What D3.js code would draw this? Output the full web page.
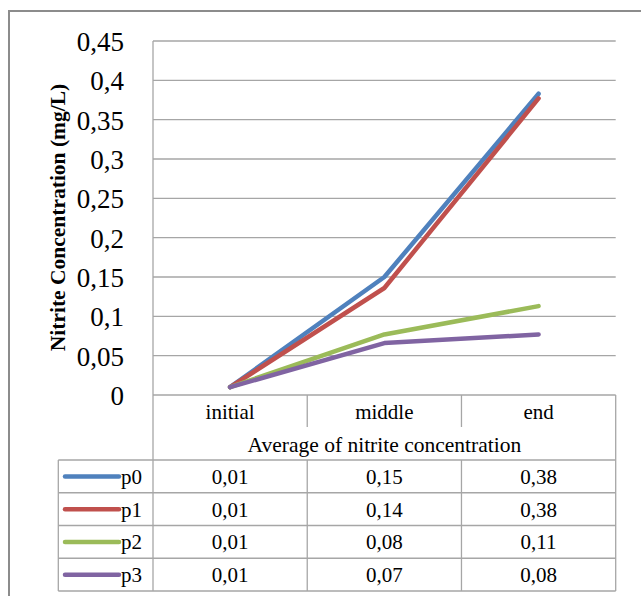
<!DOCTYPE html>
<html>
<head>
<meta charset="utf-8">
<script src="https://cdn.jsdelivr.net/npm/d3@7"></script>
<style>
  html, body { margin: 0; padding: 0; background: #fff; }
  svg { display: block; }
  text { font-family: "Liberation Serif", "Times New Roman", serif; fill: #000; }
</style>
</head>
<body>
<svg id="chart" width="641" height="596"></svg>
<script>
// ---- data ----
const categories = ["initial", "middle", "end"];
const seriesNames = ["p0", "p1", "p2", "p3"];
const p0 = [0.010, 0.150, 0.383];
const p1 = [0.010, 0.136, 0.377];
const p2 = [0.010, 0.077, 0.113];
const p3 = [0.010, 0.066, 0.077];
const seriesColors = ["#4F81BD", "#C0504D", "#9BBB59", "#8064A2"];
const yTickValues = [0, 0.05, 0.1, 0.15, 0.2, 0.25, 0.3, 0.35, 0.4, 0.45];
const yTickLabels = ["0", "0,05", "0,1", "0,15", "0,2", "0,25", "0,3", "0,35", "0,4", "0,45"];
const yTitle = "Nitrite Concentration (mg/L)";
const xTitle = "Average of nitrite concentration";

const seriesValues = [p0, p1, p2, p3];

// ---- layout ----
const svg = d3.select("#chart");
const plotLeft = 153, plotRight = 615.7, plotTop = 41, plotBottom = 395;
const catRowBottom = 427;
const titleRowBottom = 460;
const rowH = 32.75;
const tableLeft = 58.3;
const gridColor = "#A6A6A6";
const bodyFont = "21px";

const x = d3.scaleBand().domain(categories).range([plotLeft, plotRight]);
const y = d3.scaleLinear().domain([0, 0.45]).range([plotBottom, plotTop]);
const cx = c => x(c) + x.bandwidth() / 2;

const fmt = d3.formatLocale({decimal: ",", thousands: ".", grouping: [3], currency: ["", ""]}).format(".2f");

// outer frame
svg.append("path")
  .attr("d", "M9,600 L9,11 L645,11")
  .attr("fill", "none").attr("stroke", "#8C8C8C").attr("stroke-width", 2);

// gridlines
svg.append("g").selectAll("line").data(yTickValues).join("line")
  .attr("x1", plotLeft).attr("x2", plotRight)
  .attr("y1", d => y(d)).attr("y2", d => y(d))
  .attr("stroke", gridColor).attr("stroke-width", 1.3);

// plot left axis line
svg.append("line")
  .attr("x1", plotLeft).attr("x2", plotLeft)
  .attr("y1", plotTop).attr("y2", plotBottom + 4 * rowH + (titleRowBottom - plotBottom))
  .attr("stroke", gridColor).attr("stroke-width", 1.3);

// y tick labels
svg.append("g").selectAll("text").data(yTickValues).join("text")
  .attr("x", 124).attr("y", d => y(d) + 10)
  .attr("text-anchor", "end")
  .style("font-size", "27px")
  .text((d, i) => yTickLabels[i]);

// y title
svg.append("text")
  .attr("transform", "translate(65,217.5) rotate(-90)")
  .attr("text-anchor", "middle")
  .style("font-size", "21.5px").style("font-weight", "bold")
  .text(yTitle);

// ---- data table ----
const tableBottom = titleRowBottom + 4 * rowH;
const tg = svg.append("g");
tg.append("line").attr("x1", plotRight).attr("x2", plotRight)
  .attr("y1", plotBottom).attr("y2", tableBottom)
  .attr("stroke", gridColor).attr("stroke-width", 1.3);
tg.selectAll(".divh").data(categories.slice(1)).join("line")
  .attr("x1", d => x(d)).attr("x2", d => x(d))
  .attr("y1", plotBottom).attr("y2", catRowBottom)
  .attr("stroke", gridColor).attr("stroke-width", 1.3);
tg.selectAll(".divb").data(categories.slice(1)).join("line")
  .attr("x1", d => x(d)).attr("x2", d => x(d))
  .attr("y1", titleRowBottom).attr("y2", tableBottom)
  .attr("stroke", gridColor).attr("stroke-width", 1.3);
tg.append("line").attr("x1", tableLeft).attr("x2", tableLeft)
  .attr("y1", titleRowBottom).attr("y2", tableBottom)
  .attr("stroke", gridColor).attr("stroke-width", 1.3);
tg.selectAll(".row").data(d3.range(5)).join("line")
  .attr("x1", tableLeft).attr("x2", plotRight)
  .attr("y1", i => titleRowBottom + i * rowH).attr("y2", i => titleRowBottom + i * rowH)
  .attr("stroke", gridColor).attr("stroke-width", 1.3);

tg.selectAll(".cat").data(categories).join("text")
  .attr("x", d => cx(d)).attr("y", 419)
  .attr("text-anchor", "middle").style("font-size", bodyFont)
  .text(d => d);
tg.append("text")
  .attr("x", (plotLeft + plotRight) / 2).attr("y", 452)
  .attr("text-anchor", "middle").style("font-size", "21.5px")
  .text(xTitle);

seriesNames.forEach((name, si) => {
  const rowMid = titleRowBottom + si * rowH + rowH / 2;
  tg.append("line")
    .attr("x1", 65).attr("x2", 119)
    .attr("y1", rowMid).attr("y2", rowMid)
    .attr("stroke", seriesColors[si]).attr("stroke-width", 4.5)
    .attr("stroke-linecap", "round");
  tg.append("text")
    .attr("x", 121).attr("y", rowMid + 7.5)
    .style("font-size", bodyFont)
    .text(name);
  tg.selectAll(".v" + si).data(seriesValues[si]).join("text")
    .attr("x", (d, i) => cx(categories[i])).attr("y", rowMid + 7.5)
    .attr("text-anchor", "middle").style("font-size", bodyFont)
    .text(d => fmt(d));
});

// ---- series lines ----
const line = d3.line()
  .x((d, i) => cx(categories[i]))
  .y(d => y(d));
svg.append("g").selectAll("path").data(seriesValues).join("path")
  .attr("d", d => line(d))
  .attr("fill", "none")
  .attr("stroke", (d, i) => seriesColors[i])
  .attr("stroke-width", 4.5)
  .attr("stroke-linecap", "round")
  .attr("stroke-linejoin", "round");
</script>
</body>
</html>
